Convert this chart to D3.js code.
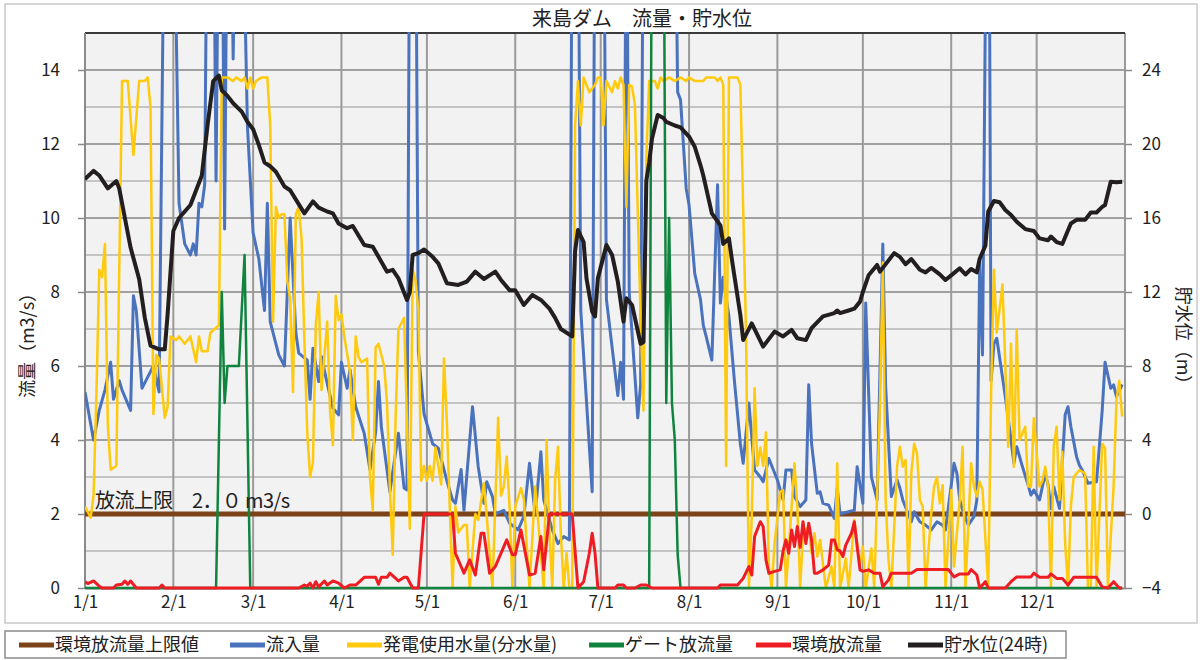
<!DOCTYPE html>
<html lang="ja">
<head>
<meta charset="UTF-8">
<title>来島ダム 流量・貯水位</title>
<script src="https://d3js.org/d3.v7.min.js"></script>
<style>
  body { margin: 0; background: #fff; font-family: 'Noto Sans CJK JP', 'Noto Sans', sans-serif; }
  svg text { fill: #222; }
</style>
</head>
<body>
<div id="chart"></div>
<script>
// ---- data (day of year, 0 = 1/1) ----
const monthStarts = [0, 31, 59, 90, 120, 151, 181, 212, 243, 273, 304, 334];
const monthLabels = ["1/1", "2/1", "3/1", "4/1", "5/1", "6/1", "7/1", "8/1", "9/1", "10/1", "11/1", "12/1"];
const leftTicks = [0, 2, 4, 6, 8, 10, 12, 14];
const rightTicks = [-4, 0, 4, 8, 12, 16, 20, 24];
const limitValue = 2.0;

// 流入量 (m3/s)
const inflow = [[0,5.3],[3,4.0],[5,4.8],[7,5.35],[9,6.1],[10,5.1],[12,5.6],[13,5.35],[16,4.8],[17,7.9],[18,7.5],[20,5.4],[22,5.7],[24,6.0],[26,5.3],[28,20],[31,20],[33,10.4],[35,9.3],[37,9.0],[38,9.3],[39,9.0],[40,10.4],[41,10.3],[42,10.9],[43,20],[45,20],[46,11],[47,20],[48,20],[49,9.7],[50,20],[51,20],[52,14.3],[53,20],[55,20],[57,12.5],[59,9.6],[61,8.9],[63,7.5],[64,10.4],[65,7.2],[68,6.3],[70,6.0],[72,10.0],[74,6.9],[75,6.35],[78,6.16],[79,5.1],[80,6.48],[82,5.58],[83,6.25],[85,5.53],[87,4.86],[89,4.68],[90,6.1],[92,5.4],[93,5.9],[95,4.9],[98,4.18],[100,3.2],[102,4.2],[103,5.58],[104,4.36],[107,2.6],[110,4.18],[112,2.7],[113,2.65],[114,20],[116,20],[117,6.4],[119,4.7],[122,3.9],[124,3.78],[126,3.2],[127,2.9],[129,2.38],[130,2.29],[132,3.2],[133,2.1],[136,4.9],[138,3.28],[140,2.29],[141,2.87],[143,2.47],[144,2.0],[147,2.1],[149,1.75],[152,1.57],[154,1.93],[156,3.37],[158,2.0],[160,3.68],[161,2.38],[164,1.57],[166,1.2],[168,1.39],[170,1.3],[171,20],[173,20],[174,7.5],[178,2.6],[179,20],[182,20],[183,7.8],[187,5.2],[188,6.1],[189,5.1],[190,20],[191,8],[194,4.6],[195,5.5],[196,20],[207,20],[208,13.4],[209,13.2],[211,10.8],[212,10.35],[214,8.5],[216,7.8],[217,7.1],[218,6.8],[220,6.16],[222,10.9],[223,7.7],[224,8.4],[226,7.33],[228,5.53],[230,3.9],[231,3.37],[233,5.0],[235,3.19],[237,3.0],[238,2.87],[240,3.5],[243,2.92],[245,2.38],[246,3.19],[248,3.19],[249,2.47],[251,2.2],[253,2.38],[254,5.49],[255,3.9],[257,2.56],[258,2.6],[259,2.29],[261,2.24],[263,1.88],[264,2.7],[265,2.0],[270,2.1],[271,3.28],[273,2.29],[274,7.7],[276,3.0],[278,2.38],[280,9.3],[281,5.44],[283,2.47],[285,2.92],[286,2.7],[287,2.38],[290,1.79],[291,2.06],[293,1.79],[295,1.7],[297,1.57],[299,1.79],[301,1.7],[302,1.57],[305,3.37],[306,3.1],[307,2.38],[308,2.1],[310,1.7],[312,1.93],[313,2.38],[314,8.8],[315,6.3],[317,25],[318,5.6],[319,6.6],[320,6.75],[323,5.17],[325,4.0],[326,3.37],[327,3.82],[329,3.28],[331,2.78],[332,2.51],[333,2.65],[335,2.38],[337,3.1],[338,2.78],[339,2.15],[340,2.74],[342,2.15],[344,4.68],[345,4.9],[346,4.36],[348,3.55],[349,3.32],[350,3.19],[352,2.83],[355,2.87],[356,3.82],[357,4.8],[358,6.1],[360,5.4],[361,5.49],[362,5.17],[364,5.5]];

// 発電使用水量(分水量) (m3/s)
const powerUse = [[0,2.2],[2,1.9],[3,2.5],[4,5.2],[5,8.6],[6,8.4],[7,9.3],[8,4.4],[9,3.2],[11,3.3],[13,13.7],[15,13.7],[17,11.7],[19,13.7],[21,13.7],[22,13.8],[23,13.0],[24,4.7],[25,6.3],[26,6.2],[28,4.6],[29,4.9],[30,6.8],[32,6.7],[33,6.8],[35,6.6],[37,6.8],[39,6.1],[40,6.8],[41,6.4],[43,6.4],[44,6.9],[47,7.1],[48,13.8],[50,13.8],[52,13.7],[53,13.8],[55,13.7],[56,13.8],[57,13.5],[58,13.8],[59,13.5],[60,13.7],[62,13.8],[64,13.8],[65,12.5],[66,7.2],[67,10.3],[68,10.0],[69,10.1],[70,10.1],[71,8.3],[72,7.8],[73,5.3],[74,10.1],[75,10.3],[76,9.45],[77,6.7],[78,4.2],[79,3.0],[80,3.4],[81,7.1],[82,8.0],[83,5.35],[85,7.2],[86,4.8],[87,3.86],[88,7.9],[89,7.24],[90,7.4],[91,6.8],[93,5.85],[94,4.0],[95,6.8],[96,6.25],[97,6.1],[99,6.2],[100,3.0],[101,2.1],[102,6.5],[103,6.6],[105,6.0],[106,5.0],[107,2.7],[108,0.9],[109,4.6],[110,7.0],[112,7.3],[114,1.6],[115,8.6],[116,8.3],[117,7.5],[118,2.9],[119,3.3],[120,2.9],[121,3.3],[122,2.9],[123,3.8],[125,2.8],[126,6.2],[127,4.5],[128,2.2],[129,0],[130,2.2],[131,1.5],[133,1.7],[134,1.7],[135,0],[137,2.0],[138,1.84],[140,2.83],[141,1.93],[143,0],[145,4.6],[146,2.5],[147,2.74],[148,3.55],[149,2.2],[150,0],[151,2.2],[153,2.7],[154,2.4],[155,1.2],[156,0],[158,2.74],[159,1.84],[161,0],[162,4.0],[163,1.48],[164,0],[165,2.92],[166,3.82],[167,1.48],[168,0],[169,0.94],[170,0],[171,0],[172,12.5],[173,13.7],[174,12.5],[175,13.8],[177,13.4],[179,13.6],[180,13.8],[181,13.8],[182,12.5],[183,13.7],[185,13.4],[186,13.7],[187,13.5],[188,13.8],[189,13.6],[190,10.3],[191,13.6],[192,13.55],[193,13.05],[195,7.3],[196,4.8],[197,11.6],[198,13.7],[200,13.7],[201,13.5],[202,13.8],[203,13.7],[205,13.8],[207,13.7],[209,13.8],[211,13.7],[212,13.8],[214,13.7],[217,13.7],[218,13.8],[221,13.8],[222,13.7],[223,13.8],[224,13.6],[225,3.3],[226,13.8],[229,13.8],[230,13.6],[232,6.9],[233,0],[234,1.9],[235,5.4],[236,3.3],[237,3.8],[238,3.3],[239,4.2],[240,0.6],[241,0],[242,1.2],[244,2.6],[245,2.65],[246,0],[248,2.2],[249,3.37],[250,2.2],[251,0],[252,1.48],[254,1.66],[255,0.94],[256,1.48],[257,0.85],[258,1.3],[260,0],[262,0.58],[263,0],[264,3.37],[265,0],[267,0.8],[268,0],[270,1.84],[272,0.58],[273,1.12],[274,0],[276,1.07],[277,0],[279,5.0],[280,8.8],[281,2.38],[282,0.76],[283,0],[285,3.28],[286,3.82],[287,3.28],[288,3.46],[289,0],[290,3.1],[291,3.9],[292,3.64],[293,2.38],[294,2.2],[295,0],[297,2.0],[298,2.74],[299,3.0],[300,2.29],[301,2.78],[302,0],[304,2.65],[305,0.58],[307,2.38],[308,3.82],[309,0],[311,3.37],[312,2.74],[313,2.47],[314,2.87],[315,2.65],[317,0],[318,5.2],[319,8.6],[320,6.9],[322,8.2],[324,3.82],[325,6.6],[326,3.28],[327,6.97],[328,4.0],[330,4.36],[331,2.74],[332,2.74],[333,4.59],[335,2.74],[336,2.9],[337,3.28],[338,2.74],[339,0],[340,3.82],[341,4.36],[342,2.38],[343,3.68],[344,1.2],[345,0],[346,2.2],[347,3.0],[349,3.19],[351,3.1],[352,0],[353,0],[354,3.82],[355,0],[357,3.9],[358,3.78],[359,0],[361,2.74],[362,5.08],[363,5.6],[364,4.63]];

// ゲート放流量 (m3/s)
const gateRelease = [[0,0],[46,0],[48,8.0],[49,5.0],[50,6.0],[54,6.0],[56,9.0],[58,0],[198,0],[199,20],[203,20],[204,5.0],[205,10.0],[206,5.0],[207,4.0],[208,0.9],[209,0],[364,0]];

// 環境放流量 (m3/s)
const envRelease = [[0,0.17],[1,0.12],[3,0.19],[5,0.05],[6,0],[10,0],[11,0.08],[13,0.1],[14,0.19],[15,0.1],[16,0.19],[18,0],[26,0],[27,0.08],[28,0],[75,0],[77,0.08],[78,0.05],[79,0.13],[80,0],[81,0.17],[82,0.03],[84,0.19],[85,0.08],[87,0.19],[89,0.13],[91,0],[93,0.08],[95,0.08],[98,0.29],[102,0.29],[103,0.1],[104,0.29],[106,0.29],[107,0.4],[110,0.19],[112,0.29],[113,0.29],[115,0],[117,0],[119,2.0],[129,2.0],[130,0.94],[133,0.4],[135,0.76],[137,0.35],[139,1.48],[140,1.48],[142,0.4],[144,0.58],[148,1.3],[150,0.9],[151,0.9],[153,1.57],[155,0.76],[156,0.35],[158,0.4],[160,1.39],[161,0.49],[163,2.0],[171,2.0],[173,0],[175,0.17],[177,0.94],[178,1.48],[179,0.94],[180,0],[186,0],[187,0.08],[189,0.08],[190,0],[193,0],[195,0.08],[197,0.08],[199,0],[222,0],[223,0.08],[229,0.08],[231,0.26],[233,0.58],[234,0.35],[235,1.39],[237,1.79],[238,1.66],[239,0.76],[240,0.4],[242,0.45],[244,0.49],[245,1.0],[246,1.3],[247,0.94],[248,1.57],[249,1.12],[250,1.66],[251,1.1],[252,1.79],[253,1.2],[254,1.75],[255,1.3],[256,0.4],[257,0.4],[259,0.49],[261,0.62],[262,1.3],[263,1.3],[264,1.03],[265,1.0],[266,0.85],[267,1.16],[269,1.48],[270,1.79],[271,1.12],[272,0.49],[273,0.45],[275,0.49],[277,0.4],[279,0.4],[280,0.03],[282,0.22],[283,0.4],[290,0.4],[292,0.5],[303,0.5],[305,0.3],[307,0.38],[310,0.38],[311,0.5],[313,0.35],[314,0],[316,0.17],[317,0],[323,0],[325,0.17],[327,0.3],[332,0.3],[333,0.4],[335,0.29],[338,0.29],[339,0.38],[341,0.26],[343,0.26],[345,0.08],[347,0.29],[355,0.29],[357,0.03],[359,0],[361,0.17],[363,0],[364,0]];

// 貯水位(24時) (m)
const waterLevel = [[0,18.1],[3,18.55],[5,18.3],[8,17.6],[11,18.0],[12,17.6],[16,14.4],[19,12.7],[21,10.6],[23,9.1],[26,8.9],[28,8.9],[29,10.8],[31,15.3],[33,16.0],[37,16.7],[41,18.3],[43,21.0],[45,23.4],[47,23.7],[48,22.9],[50,22.6],[52,22.2],[55,21.75],[57,21.2],[59,20.8],[61,19.95],[63,19.0],[65,18.8],[67,18.5],[70,17.7],[72,17.5],[77,16.25],[80,16.9],[82,16.56],[85,16.35],[87,16.25],[89,15.7],[92,15.45],[94,15.57],[98,14.54],[101,14.45],[103,13.9],[106,13.1],[108,13.2],[110,12.74],[113,11.57],[114,12.0],[115,14.0],[117,14.1],[119,14.3],[122,13.9],[124,13.55],[126,12.84],[127,12.47],[131,12.38],[134,12.56],[137,13.1],[140,12.7],[144,13.1],[146,12.65],[149,12.1],[151,12.1],[154,11.3],[157,11.84],[160,11.57],[163,11.1],[165,10.6],[167,10.0],[171,9.6],[172,14.2],[173,15.35],[175,14.7],[176,12.74],[178,10.95],[179,10.68],[180,12.74],[183,14.54],[185,14.0],[187,12.56],[189,10.4],[190,11.66],[192,11.3],[195,9.2],[196,9.3],[197,18.0],[198,19.0],[199,20.3],[201,21.57],[203,21.4],[204,21.2],[207,21.0],[209,20.9],[212,20.4],[214,19.85],[216,18.86],[217,18.3],[220,16.25],[223,15.6],[224,14.6],[226,14.9],[227,13.8],[230,10.76],[231,9.4],[234,10.3],[238,9.05],[242,9.86],[245,9.6],[248,9.95],[250,9.5],[253,9.4],[255,10.05],[259,10.68],[263,10.86],[264,11.0],[265,10.86],[268,11.0],[270,11.1],[272,11.48],[273,12.0],[275,12.9],[278,13.46],[279,13.1],[284,14.1],[286,13.9],[288,13.5],[290,13.78],[293,13.2],[295,13.06],[297,13.3],[300,12.95],[302,12.65],[304,12.9],[307,13.28],[309,12.95],[311,13.24],[313,13.06],[314,13.8],[316,14.5],[317,16.35],[319,16.92],[321,16.85],[323,16.43],[325,16.16],[327,15.8],[330,15.4],[333,15.3],[335,14.9],[338,14.8],[339,15.0],[341,14.7],[343,14.6],[346,15.7],[348,15.9],[351,15.9],[353,16.3],[355,16.3],[357,16.6],[358,16.7],[360,17.96],[362,17.93],[364,17.96]];

const legendNames = ["環境放流量上限値", "流入量", "発電使用水量(分水量)", "ゲート放流量", "環境放流量", "貯水位(24時)"];

// ---- layout ----
const W = 1203, H = 660;
const plot = { left: 85, right: 1125, top: 33, bottom: 588 };
const colors = {
  limit: "#7b4317", inflow: "#4a72bd", power: "#ffc90e",
  gate: "#10843f", env: "#ee1d24", level: "#231f20"
};

const svg = d3.select("#chart").append("svg")
  .attr("width", W).attr("height", H);

// outer frame
svg.append("rect").attr("x", 5).attr("y", 4).attr("width", 1192).attr("height", 619)
  .attr("fill", "#fff").attr("stroke", "#c8c8c8").attr("stroke-width", 1.5);

const x = d3.scaleLinear().domain([0, 365]).range([plot.left, plot.right]);
const yL = d3.scaleLinear().domain([0, 15]).range([plot.bottom, plot.top]);
const yR = d3.scaleLinear().domain([-4, 26]).range([plot.bottom, plot.top]);

// plot background
svg.append("rect")
  .attr("x", plot.left).attr("y", plot.top)
  .attr("width", plot.right - plot.left).attr("height", plot.bottom - plot.top)
  .attr("fill", "#f2f2f2");

// horizontal grid (every 1, darker on even values)
const grid = svg.append("g");
d3.range(1, 15).forEach(v => {
  grid.append("line")
    .attr("x1", plot.left).attr("x2", plot.right)
    .attr("y1", yL(v)).attr("y2", yL(v))
    .attr("stroke", v % 2 === 0 ? "#a0a0a0" : "#c4c4c4")
    .attr("stroke-width", 2);
});
// vertical grid at month starts
monthStarts.slice(1).concat([365]).forEach(d => {
  grid.append("line")
    .attr("x1", x(d)).attr("x2", x(d))
    .attr("y1", plot.top).attr("y2", plot.bottom)
    .attr("stroke", "#9a9a9a").attr("stroke-width", 2);
});
// top edge
grid.append("line")
  .attr("x1", plot.left).attr("x2", plot.right)
  .attr("y1", plot.top).attr("y2", plot.top)
  .attr("stroke", "#3a3a3a").attr("stroke-width", 2);
// left axis line
grid.append("line")
  .attr("x1", plot.left).attr("x2", plot.left)
  .attr("y1", plot.top).attr("y2", plot.bottom)
  .attr("stroke", "#8a8a8a").attr("stroke-width", 2);

// left axis ticks + labels
const leftAxis = svg.append("g").attr("transform", `translate(${plot.left},0)`)
  .call(d3.axisLeft(yL).tickValues(leftTicks).tickSize(7).tickPadding(18));
leftAxis.select(".domain").remove();
leftAxis.selectAll("line").attr("stroke", "#8a8a8a").attr("stroke-width", 1.5);
leftAxis.selectAll("text").style("font-size", "17px").style("font-family", "'Noto Sans CJK JP', sans-serif").attr("fill", "#222");

// right axis
const rightAxis = svg.append("g").attr("transform", `translate(${plot.right},0)`)
  .call(d3.axisRight(yR).tickValues(rightTicks).tickSize(7).tickPadding(10));
rightAxis.select(".domain").remove();
rightAxis.selectAll("line").attr("stroke", "#8a8a8a").attr("stroke-width", 1.5);
rightAxis.selectAll("text").style("font-size", "17px").style("font-family", "'Noto Sans CJK JP', sans-serif").attr("fill", "#222");

// bottom axis labels
const bottomAxis = svg.append("g").attr("transform", `translate(0,${plot.bottom})`)
  .call(d3.axisBottom(x).tickValues(monthStarts).tickFormat((d, i) => monthLabels[i]).tickSize(0).tickPadding(8));
bottomAxis.select(".domain").attr("stroke", "#8a8a8a").attr("stroke-width", 2);
bottomAxis.selectAll("text").style("font-size", "17px").style("font-family", "'Noto Sans CJK JP', sans-serif").attr("fill", "#222");

// clip for data lines
svg.append("clipPath").attr("id", "plotClip").append("rect")
  .attr("x", plot.left).attr("y", plot.top - 1)
  .attr("width", plot.right - plot.left).attr("height", plot.bottom - plot.top + 3);

const lines = svg.append("g").attr("clip-path", "url(#plotClip)");
const lineL = d3.line().x(d => x(d[0])).y(d => yL(d[1]));
const lineR = d3.line().x(d => x(d[0])).y(d => yR(d[1]));

// limit line
lines.append("line")
  .attr("x1", x(0)).attr("x2", x(365))
  .attr("y1", yL(limitValue)).attr("y2", yL(limitValue))
  .attr("stroke", colors.limit).attr("stroke-width", 5);

lines.append("path").datum(inflow).attr("d", lineL)
  .attr("fill", "none").attr("stroke", colors.inflow).attr("stroke-width", 3).attr("stroke-linejoin", "round");
lines.append("path").datum(powerUse).attr("d", lineL)
  .attr("fill", "none").attr("stroke", colors.power).attr("stroke-width", 2.5).attr("stroke-linejoin", "round");
lines.append("path").datum(gateRelease).attr("d", lineL)
  .attr("fill", "none").attr("stroke", colors.gate).attr("stroke-width", 2.5).attr("stroke-linejoin", "round");
lines.append("path").datum(envRelease).attr("d", lineL)
  .attr("fill", "none").attr("stroke", colors.env).attr("stroke-width", 3).attr("stroke-linejoin", "round");
lines.append("path").datum(waterLevel).attr("d", lineR)
  .attr("fill", "none").attr("stroke", colors.level).attr("stroke-width", 4).attr("stroke-linejoin", "round");

// limit label
svg.append("text")
  .attr("x", 95).attr("y", yL(limitValue) - 6)
  .attr("textLength", 195).attr("lengthAdjust", "spacing")
  .style("font-size", "20px")
  .text("放流上限　2．０ m3/s");

// title
svg.append("text")
  .attr("x", 642).attr("y", 26).attr("text-anchor", "middle")
  .style("font-size", "20px")
  .text("来島ダム　流量・貯水位");

// axis titles
svg.append("text")
  .attr("transform", "translate(34,341) rotate(-90)")
  .attr("text-anchor", "middle").style("font-size", "18px")
  .text("流量（m3/s）");
svg.append("text")
  .attr("transform", "translate(1177,340) rotate(90)")
  .attr("text-anchor", "middle").style("font-size", "18px")
  .text("貯水位（m）");

// legend
const legendColors = [colors.limit, colors.inflow, colors.power, colors.gate, colors.env, colors.level];
const legendX = [19, 230, 347, 589, 756, 908];
const legend = svg.append("g");
legend.append("rect").attr("x", 5).attr("y", 631).attr("width", 1061).attr("height", 27)
  .attr("fill", "#fff").attr("stroke", "#8c8c8c").attr("stroke-width", 1.5);
legendNames.forEach((name, i) => {
  legend.append("line")
    .attr("x1", legendX[i]).attr("x2", legendX[i] + 35)
    .attr("y1", 645).attr("y2", 645)
    .attr("stroke", legendColors[i]).attr("stroke-width", 5);
  legend.append("text")
    .attr("x", legendX[i] + 36).attr("y", 651)
    .style("font-size", "18px")
    .text(name);
});
</script>
</body>
</html>
